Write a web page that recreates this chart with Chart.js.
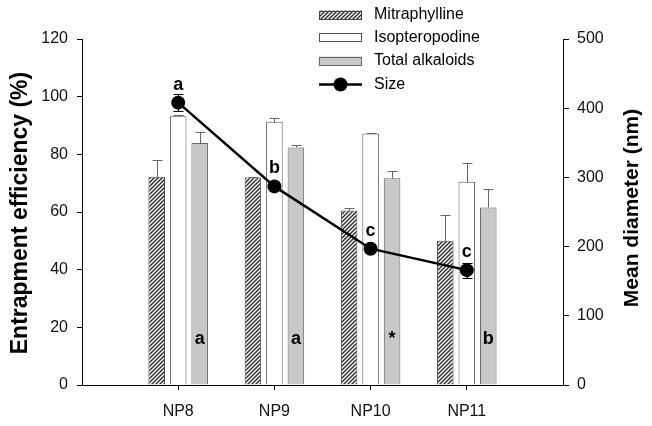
<!DOCTYPE html>
<html><head><meta charset="utf-8">
<script src="https://cdn.jsdelivr.net/npm/chart.js@4/dist/chart.umd.min.js"></script>
<style>html,body{margin:0;padding:0;background:#fff;}</style>
</head><body>
<canvas id="c" width="652" height="426"></canvas>
<script>
// ---- data ----
const categories = ['NP8', 'NP9', 'NP10', 'NP11'];
const mitraphylline = [72.2, 72.0, 60.5, 50.0];
const mitraphyllineErr = [5.8, 0.3, 0.8, 9.0];
const isopteropodine = [93.2, 91.3, 87.2, 70.5];
const isopteropodineErr = [0.5, 1.2, 0.3, 6.5];
const totalAlkaloids = [83.9, 82.4, 71.7, 61.6];
const totalAlkaloidsErr = [3.7, 0.8, 2.4, 6.3];
const sizeNm = [408, 287, 197, 166];
const sizeErr = [12, 4, 4, 11];
const sizeLetters = ['a', 'b', 'c', 'c'];
const alkaloidLetters = ['a', 'a', '*', 'b'];
const leftTicks = [0, 20, 40, 60, 80, 100, 120];
const rightTicks = [0, 100, 200, 300, 400, 500];
const leftTitle = 'Entrapment efficiency (%)';
const rightTitle = 'Mean diameter (nm)';

// ---- helpers ----
const FONT = "'Liberation Sans', Arial, Helvetica, sans-serif";
const pad = arr => [null, ...arr, null];
const labels = ['', ...categories, ''];
const canvas = document.getElementById('c');
const ctx0 = canvas.getContext('2d');

function makeHatch() {
  const c = document.createElement('canvas');
  c.width = 4; c.height = 4;
  const g = c.getContext('2d');
  g.fillStyle = '#ffffff'; g.fillRect(0, 0, 4, 4);
  g.strokeStyle = '#2a2a2a'; g.lineWidth = 1.4;
  g.beginPath();
  g.moveTo(0, 4); g.lineTo(4, 0);
  g.moveTo(-1, 1); g.lineTo(1, -1);
  g.moveTo(3, 5); g.lineTo(5, 3);
  g.stroke();
  return ctx0.createPattern(c, 'repeat');
}
const hatch = makeHatch();

const errPlugin = {
  id: 'errs',
  afterDatasetDraw(chart, args) {
    const ds = chart.data.datasets[args.index];
    if (!ds.errors) return;
    const ctx = chart.ctx;
    const ys = chart.scales[ds.yAxisID];
    const isLine = ds.type === 'line';
    const cap = 5;
    ctx.save();
    ctx.strokeStyle = ds.errorColor;
    ctx.lineWidth = 1;
    args.meta.data.forEach((el, i) => {
      const v = ds.data[i], e = ds.errors[i];
      if (v == null || e == null) return;
      const x = Math.round(el.x) + 0.5;
      const yT = Math.round(ys.getPixelForValue(v + e)) + 0.5;
      const yB = Math.round(ys.getPixelForValue(isLine ? v - e : v)) + 0.5;
      ctx.beginPath();
      ctx.moveTo(x, yB); ctx.lineTo(x, yT);
      ctx.moveTo(x - cap, yT); ctx.lineTo(x + cap, yT);
      if (isLine) { ctx.moveTo(x - cap, yB); ctx.lineTo(x + cap, yB); }
      ctx.stroke();
    });
    ctx.restore();
  }
};

const decoPlugin = {
  id: 'deco',
  afterDatasetsDraw(chart) {
    const ctx = chart.ctx;
    ctx.save();
    ctx.fillStyle = '#000';
    ctx.font = 'bold 18px ' + FONT;
    ctx.textAlign = 'center';
    ctx.textBaseline = 'middle';
    const lineMeta = chart.getDatasetMeta(3);
    lineMeta.data.forEach((el, i) => {
      const t = sizeLetters[i - 1];
      if (!t) return;
      ctx.fillText(t, el.x, el.y - 18);
    });
    const barMeta = chart.getDatasetMeta(2);
    const yL = chart.scales.y;
    barMeta.data.forEach((el, i) => {
      const t = alkaloidLetters[i - 1];
      if (!t) return;
      ctx.fillText(t, el.x, yL.getPixelForValue(16));
    });
    ctx.restore();
  },
  afterDraw(chart) {
    const ctx = chart.ctx;
    ctx.save();
    // axis titles
    ctx.fillStyle = '#000';
    ctx.textAlign = 'center';
    ctx.textBaseline = 'alphabetic';
    ctx.font = 'bold 23px ' + FONT;
    ctx.translate(27, 213);
    ctx.rotate(-Math.PI / 2);
    ctx.fillText(leftTitle, 0, 0);
    ctx.setTransform(1, 0, 0, 1, 0, 0);
    ctx.font = 'bold 21px ' + FONT;
    ctx.translate(638, 208);
    ctx.rotate(-Math.PI / 2);
    ctx.fillText(rightTitle, 0, 0);
    ctx.setTransform(1, 0, 0, 1, 0, 0);
    // legend
    const boxX = 319, boxW = 43, boxH = 9, textX = 374;
    const rows = [15, 37.5, 61, 84.5];
    ctx.font = '16px ' + FONT;
    ctx.textAlign = 'left';
    ctx.textBaseline = 'middle';
    chart.data.datasets.forEach((ds, i) => {
      const y = rows[i];
      if (ds.type === 'line') {
        ctx.strokeStyle = ds.borderColor;
        ctx.lineWidth = ds.borderWidth;
        ctx.beginPath(); ctx.moveTo(boxX, y); ctx.lineTo(boxX + boxW, y); ctx.stroke();
        ctx.fillStyle = ds.pointBackgroundColor;
        ctx.beginPath(); ctx.arc(boxX + boxW / 2, y, ds.pointRadius, 0, Math.PI * 2); ctx.fill();
      } else {
        ctx.fillStyle = ds.backgroundColor;
        ctx.fillRect(boxX, y - boxH / 2, boxW, boxH);
        ctx.strokeStyle = ds.borderColor;
        ctx.lineWidth = 1;
        ctx.strokeRect(boxX + 0.5, Math.round(y - boxH / 2) + 0.5, boxW - 1, boxH - 1);
      }
      ctx.fillStyle = '#000';
      ctx.fillText(ds.label, textX, y);
    });
    ctx.restore();
  }
};

const tickFont = { family: FONT, size: 16 };
const tickColor = '#111';

new Chart(canvas, {
  type: 'bar',
  data: {
    labels: labels,
    datasets: [
      { label: 'Mitraphylline', data: pad(mitraphylline), errors: pad(mitraphyllineErr),
        backgroundColor: hatch, borderColor: '#444', borderWidth: 1, errorColor: '#666',
        yAxisID: 'y', order: 1 },
      { label: 'Isopteropodine', data: pad(isopteropodine), errors: pad(isopteropodineErr),
        backgroundColor: '#ffffff', borderColor: '#555', borderWidth: 1, errorColor: '#666',
        yAxisID: 'y', order: 1 },
      { label: 'Total alkaloids', data: pad(totalAlkaloids), errors: pad(totalAlkaloidsErr),
        backgroundColor: '#c8c8c8', borderColor: '#666', borderWidth: 1, errorColor: '#666',
        yAxisID: 'y', order: 1 },
      { type: 'line', label: 'Size', data: pad(sizeNm), errors: pad(sizeErr),
        borderColor: '#000', borderWidth: 2.5, pointRadius: 7, pointBackgroundColor: '#000',
        pointBorderColor: '#000', pointBorderWidth: 0, errorColor: '#000',
        yAxisID: 'y1', order: 0, spanGaps: false, tension: 0 }
    ]
  },
  options: {
    responsive: false,
    animation: false,
    devicePixelRatio: 1,
    layout: { padding: { top: 39, left: 0, right: 0, bottom: 0 } },
    datasets: { bar: { categoryPercentage: 0.67, barPercentage: 0.77 } },
    plugins: { legend: { display: false }, tooltip: { enabled: false } },
    scales: {
      x: {
        offset: false,
        grid: { drawOnChartArea: false, drawTicks: true, tickLength: 5, offset: false,
          tickColor: c => (c.index === 0 || c.index === labels.length - 1) ? 'rgba(0,0,0,0)' : '#000' },
        border: { display: true, color: '#000', width: 1 },
        ticks: { font: tickFont, color: tickColor, padding: 12, maxRotation: 0, autoSkip: false },
        afterFit: s => { s.height = 41; }
      },
      y: {
        position: 'left',
        min: leftTicks[0], max: leftTicks[leftTicks.length - 1],
        grid: { drawOnChartArea: false, tickLength: 5, tickColor: '#000' },
        border: { display: true, color: '#000', width: 1 },
        ticks: { stepSize: leftTicks[1] - leftTicks[0], font: tickFont, color: tickColor, padding: 9 },
        afterFit: s => { s.width = 82; }
      },
      y1: {
        position: 'right',
        min: rightTicks[0], max: rightTicks[rightTicks.length - 1],
        grid: { drawOnChartArea: false, tickLength: 6, tickColor: '#000' },
        border: { display: true, color: '#000', width: 1 },
        ticks: { stepSize: rightTicks[1] - rightTicks[0], font: tickFont, color: tickColor, padding: 8 },
        afterFit: s => { s.width = 89; }
      }
    }
  },
  plugins: [errPlugin, decoPlugin]
});
</script>
</body></html>
